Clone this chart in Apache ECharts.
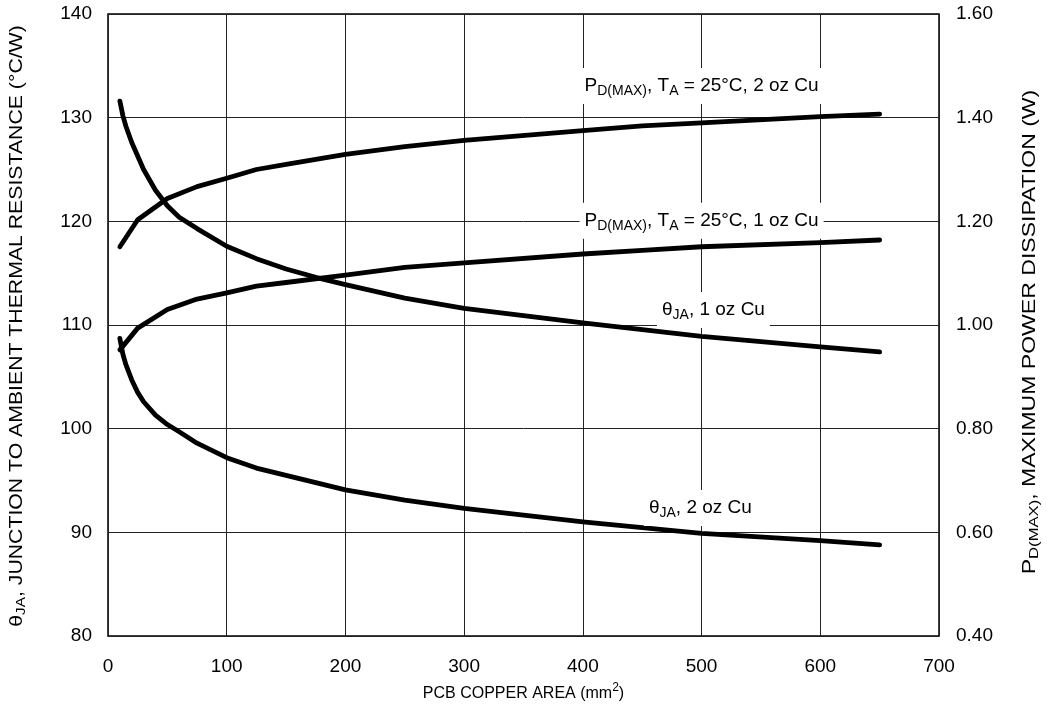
<!DOCTYPE html>
<html>
<head>
<meta charset="utf-8">
<script src="https://cdn.jsdelivr.net/npm/echarts@6/dist/echarts.min.js"></script>
<style>
  html, body { margin: 0; padding: 0; background: #fff; }
  #chart-container { width: 1047px; height: 706px; }
</style>
</head>
<body>
<div id="chart-container"></div>
<script>
// PCB copper area (mm^2) sample points
const thetaArea = [10, 12.5, 15, 20, 25, 30, 40, 50, 60, 75, 100, 125, 150, 175, 200, 250, 300, 400, 500, 600, 650];
const theta1oz = [131.6, 130.2, 129.2, 127.6, 126.3, 125.0, 123.0, 121.5, 120.4, 119.3, 117.6, 116.4, 115.4, 114.6, 113.9, 112.6, 111.6, 110.2, 108.9, 107.9, 107.4];
const theta2oz = [108.7, 107.2, 106.2, 104.7, 103.5, 102.6, 101.3, 100.4, 99.7, 98.6, 97.2, 96.2, 95.5, 94.8, 94.1, 93.1, 92.3, 91.0, 89.9, 89.2, 88.8];

const pdArea = [10, 25, 50, 75, 100, 125, 150, 200, 250, 300, 400, 450, 500, 600, 650];
const pd2oz = [1.151, 1.203, 1.244, 1.267, 1.283, 1.300, 1.310, 1.329, 1.344, 1.356, 1.375, 1.384, 1.390, 1.402, 1.407];
const pd1oz = [0.952, 0.994, 1.030, 1.050, 1.062, 1.075, 1.082, 1.096, 1.111, 1.120, 1.137, 1.144, 1.151, 1.159, 1.164];

const xTicks = [0, 100, 200, 300, 400, 500, 600, 700];
const leftTicks = [80, 90, 100, 110, 120, 130, 140];
const rightTicks = [0.4, 0.6, 0.8, 1.0, 1.2, 1.4, 1.6];

const FONT = '"Liberation Sans", Arial, sans-serif';

const zip = (xs, ys) => xs.map((x, i) => [x, ys[i]]);

const curveLabel = (text) => ({
    show: true,
    position: 'inside',
    formatter: text,
    fontSize: 19,
    fontFamily: FONT,
    color: '#000',
    lineHeight: 24,
    backgroundColor: '#fff',
    padding: [6, 5, 6, 5],
    rich: {
        sub: { fontSize: 14, fontFamily: FONT, color: '#000', verticalAlign: 'bottom', lineHeight: 24 }
    }
});

const tagPoint = (x, y, text) => ({
    coord: [x, y],
    symbol: 'rect',
    symbolSize: 1,
    itemStyle: { color: 'rgba(0,0,0,0)' },
    label: curveLabel(text)
});

const lineSeries = (name, data, yIdx, tag) => ({
    name: name,
    type: 'line',
    yAxisIndex: yIdx,
    data: data,
    showSymbol: false,
    smooth: false,
    lineStyle: { color: '#000', width: 4.8, cap: 'round', join: 'round' },
    itemStyle: { color: '#000' },
    markPoint: { silent: true, data: [tag] },
    z: 3
});

// rotated axis titles, stretched along the text like the original
const sideTitle = (x, y, stretch, text) => ({
    type: 'text',
    x: x,
    y: y,
    rotation: Math.PI / 2,
    scaleX: stretch,
    silent: true,
    style: {
        text: text,
        fontSize: 18,
        fontFamily: FONT,
        fill: '#000',
        align: 'center',
        verticalAlign: 'middle',
        rich: {
            sub: { fontSize: 13, fontFamily: FONT, fill: '#000', verticalAlign: 'bottom', lineHeight: 22 }
        }
    }
});

const chartDom = document.getElementById('chart-container');
const myChart = echarts.init(chartDom);

const option = {
    animation: false,
    backgroundColor: '#fff',
    grid: {
        left: 108,
        right: 108,
        top: 14,
        bottom: 70,
        containLabel: false,
        outerBoundsMode: 'none',
        show: true,
        borderColor: '#000',
        borderWidth: 1.5,
        backgroundColor: 'transparent'
    },
    graphic: [
        sideTitle(17, 326, 1.18, '\u03b8{sub|JA}, JUNCTION TO AMBIENT THERMAL RESISTANCE (\u00b0C/W)'),
        sideTitle(1030, 332, 1.28, 'P{sub|D(MAX)}, MAXIMUM POWER DISSIPATION (W)')
    ],
    xAxis: {
        type: 'value',
        min: xTicks[0],
        max: xTicks[xTicks.length - 1],
        interval: 100,
        name: 'PCB COPPER AREA (mm{sup|2})',
        nameLocation: 'middle',
        nameGap: 46,
        nameTextStyle: {
            fontSize: 16, fontFamily: FONT, color: '#000', lineHeight: 24,
            rich: {
                sup: { fontSize: 12, fontFamily: FONT, color: '#000', verticalAlign: 'top', lineHeight: 14 }
            }
        },
        axisLine: { show: false },
        axisTick: { show: false },
        axisLabel: { fontSize: 19, fontFamily: FONT, color: '#000', margin: 21 },
        splitLine: { show: true, lineStyle: { color: '#222', width: 1 } }
    },
    yAxis: [
        {
            type: 'value',
            min: leftTicks[0],
            max: leftTicks[leftTicks.length - 1],
            interval: 10,
            position: 'left',
            axisLine: { show: false },
            axisTick: { show: false },
            axisLabel: { fontSize: 19, fontFamily: FONT, color: '#000', margin: 16 },
            splitLine: { show: true, lineStyle: { color: '#222', width: 1 } }
        },
        {
            type: 'value',
            min: rightTicks[0],
            max: rightTicks[rightTicks.length - 1],
            interval: 0.2,
            position: 'right',
            axisLine: { show: false },
            axisTick: { show: false },
            axisLabel: {
                fontSize: 19, fontFamily: FONT, color: '#000', margin: 17,
                formatter: (v) => v.toFixed(2)
            },
            splitLine: { show: false }
        }
    ],
    series: [
        lineSeries('theta1oz', zip(thetaArea, theta1oz), 0,
            tagPoint(510, 111.45, '\u03b8{sub|JA}, 1 oz Cu')),
        lineSeries('theta2oz', zip(thetaArea, theta2oz), 0,
            tagPoint(499, 92.35, '\u03b8{sub|JA}, 2 oz Cu')),
        lineSeries('pd2oz', zip(pdArea, pd2oz), 1,
            tagPoint(500, 1.461, 'P{sub|D(MAX)}, T{sub|A} = 25\u00b0C, 2 oz Cu')),
        lineSeries('pd1oz', zip(pdArea, pd1oz), 1,
            tagPoint(500, 1.201, 'P{sub|D(MAX)}, T{sub|A} = 25\u00b0C, 1 oz Cu'))
    ]
};

myChart.setOption(option);
</script>
</body>
</html>
